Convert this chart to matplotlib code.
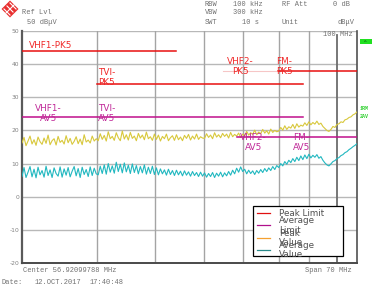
import matplotlib
matplotlib.use("Agg")
import matplotlib.pyplot as plt
from matplotlib.patches import Polygon, Rectangle
from matplotlib.lines import Line2D
import numpy as np

# Screen geometry (pixels of the 377x287 screenshot)
W, H = 377, 287
AX_L, AX_R, AX_T, AX_B = 22, 357, 31, 263

# Level axis (dBuV)
Y_TICKS = [50, 40, 30, 20, 10, 0, -10, -20]
# vertical grid lines, as fraction of the sweep
X_GRID = [0.225, 0.398, 0.542, 0.661, 0.766, 0.857]
MARKER_X = 0.940

# Limit lines: (name, level, x start, x end)
PK_LIMITS = [("VHF1-PK5", 44, 0.0, 0.459),
             ("TVI-PK5", 34, 0.225, 0.839),
             ("FM-PK5", 38, 0.765, 1.0)]
AV_LIMITS = [("VHF1/TVI-AV5", 24, 0.0, 0.839),
             ("VHF2/FM-AV5", 18, 0.642, 1.0)]

# Limit labels: (text, x centre, level centre)
PK_LABELS = [("TVI-\nPK5", 0.252, 36.1),
             ("VHF2-\nPK5", 0.651, 39.4),
             ("FM-\nPK5", 0.783, 39.4)]
AV_LABELS = [("VHF1-\nAV5", 0.078, 25.1),
             ("TVI-\nAV5", 0.252, 25.1),
             ("VHF2-\nAV5", 0.690, 16.5),
             ("FM-\nAV5", 0.834, 16.5)]

# Peak trace (yellow), every ~2 px
PEAK = [16.2, 17.9, 15.4, 16.8, 18.3, 15.9, 17.2, 15.5, 18.0, 16.6,
        15.8, 17.7, 16.1, 18.6, 15.7, 16.9, 17.5, 15.6, 18.2, 16.4,
        17.0, 15.9, 18.4, 16.3, 17.6, 15.8, 16.7, 18.1, 16.0, 17.4,
        15.7, 18.7, 16.5, 17.1, 16.2, 18.3, 16.8, 17.5,
        16.9, 19.0, 17.3, 18.5, 16.8, 19.6, 17.5, 18.2, 17.0, 19.3,
        17.8, 16.9, 19.8, 17.4, 18.7, 17.1, 19.4, 17.6, 18.3, 16.9,
        19.1, 17.7, 18.6, 17.2, 19.5, 17.5, 18.1, 17.0, 18.9,
        17.3, 18.6, 16.8, 18.2, 17.5, 18.9, 16.9, 17.8, 18.4, 17.0,
        18.7, 17.2, 18.0, 16.9, 18.5, 17.6, 18.8, 17.1, 18.3, 17.4,
        18.9, 17.3, 18.1, 17.7,
        17.6, 19.0, 17.9, 18.6, 17.5, 19.3, 18.0, 18.7, 17.8, 19.1,
        18.2, 18.9, 17.7, 19.4, 18.1, 18.8, 18.3, 19.2, 17.9, 18.9,
        18.4, 19.7, 18.6, 19.3, 18.8, 20.1, 18.7, 19.5, 19.0, 20.3,
        19.2, 19.9, 18.9, 20.4, 19.4, 20.0, 19.6,
        19.8, 20.9, 20.1, 21.4, 20.3, 21.1, 20.7, 21.8, 20.6, 22.0,
        21.0, 21.6, 21.3, 22.3, 21.5,
        22.6, 21.7, 22.4, 21.9, 22.8, 21.8, 22.2, 21.2, 20.6, 20.0, 19.7,
        20.3, 21.2, 20.9, 21.8, 22.0, 22.6, 22.4, 23.2, 23.4, 23.9,
        24.1, 24.7, 25.0, 25.6]

# Average trace (cyan)
AVG = [6.1, 8.8, 5.8, 7.4, 9.1, 6.0, 8.3, 5.7, 8.9, 6.6,
       7.9, 5.9, 9.2, 6.4, 8.1, 5.8, 8.7, 7.0, 6.2, 9.0,
       5.9, 8.4, 6.5, 8.8, 6.0, 7.7, 9.1, 6.3, 8.5, 5.8,
       8.9, 6.7, 8.2, 6.1, 9.0, 6.4, 8.6, 6.9,
       6.6, 9.2, 7.0, 9.6, 6.8, 10.0, 7.4, 9.3, 7.1, 10.4,
       7.6, 9.8, 7.2, 10.2, 7.5, 9.5, 7.0, 9.9, 7.3, 9.4,
       6.9, 9.1, 7.2, 9.6, 6.8, 8.9, 7.0, 9.2, 6.7,
       8.7, 6.6, 8.4, 6.9, 8.1, 6.5, 8.3, 6.7, 7.9, 6.4,
       8.0, 6.6, 7.7, 6.3, 7.8, 6.5, 7.5, 6.2, 7.6, 6.4,
       7.3, 6.1, 7.4, 6.2,
       7.2, 5.9, 7.0, 6.1, 7.3, 5.8, 7.1, 6.2, 7.4, 6.0,
       7.2, 6.3, 7.6, 6.5, 8.0, 6.9, 8.6, 7.4, 9.0, 7.6,
       8.3, 6.9, 8.0, 7.0, 7.8, 6.7, 7.9, 7.1, 8.2, 7.3,
       8.5, 7.6, 8.7, 7.9, 9.1, 8.2, 9.4,
       8.8, 10.0, 9.3, 10.6, 9.8, 11.0, 10.3, 11.5, 10.6, 11.9,
       10.9, 12.3, 11.2, 12.6, 11.5,
       12.8, 11.7, 12.5, 11.9, 12.7, 11.6, 12.1, 11.0, 10.2, 9.6, 9.3,
       9.9, 10.6, 10.9, 11.5, 11.8, 12.4, 12.7, 13.3, 13.6, 14.2,
       14.6, 15.1, 15.5, 16.0]

LEGEND_LABELS = ["Peak Limit", "Average\nLimit", "Peak\nValue", "Average\nValue"]
LEGEND_COLORS = ["#e01010", "#b0108c", "#f5a030", "#2a8a8a"]

RED = "#f02828"
MAGENTA = "#c02898"
GREY = "#707070"
MONO = "Liberation Mono"


def fx(x):
    return x / W


def fy(y):
    return 1 - y / H


def ax_xy(x, y):
    """screen pixel -> axes fraction"""
    return (x - AX_L) / (AX_R - AX_L), (AX_B - y) / (AX_B - AX_T)


fig = plt.figure(figsize=(W / 100, H / 100), dpi=100)
fig.patch.set_facecolor("white")
ax = fig.add_axes([fx(AX_L), fy(AX_B), (AX_R - AX_L) / W, (AX_B - AX_T) / H])
ax.set_xlim(0, 1)
ax.set_ylim(-20, 50)

for lv in Y_TICKS:
    ax.axhline(lv, color="#b8b8b8", lw=1.0, zorder=1)
for gx in X_GRID:
    ax.axvline(gx, color="#a4a4a4", lw=1.0, zorder=1)
ax.plot([MARKER_X, MARKER_X], [-20, 48.8], color="#6c6c6c", lw=1.3, zorder=2)

ax.set_xticks([])
ax.set_yticks(Y_TICKS)
ax.set_yticklabels([str(t) for t in Y_TICKS], fontsize=4.3, color="#808080",
                   family="DejaVu Sans")
ax.tick_params(axis="y", length=0, pad=2)
ax.spines["top"].set_visible(False)
for side, c, w in [("left", "#5a5a5a", 1.6), ("bottom", "#4a4a4a", 1.4),
                   ("right", "#505050", 1.2)]:
    ax.spines[side].set_color(c)
    ax.spines[side].set_linewidth(w)

# traces
xs = np.linspace(0, 1, len(PEAK))
ax.plot(xs, PEAK, color="#d8c83c", lw=0.8, zorder=3)
xa = np.linspace(0, 1, len(AVG))
ax.plot(xa, AVG, color="#22b8c0", lw=0.8, zorder=3)

# limit lines
for name, lv, x0, x1 in PK_LIMITS:
    ax.plot([x0, x1], [lv, lv], color="#e81010", lw=1.1, zorder=4)
for name, lv, x0, x1 in AV_LIMITS:
    ax.plot([x0, x1], [lv, lv], color="#c0108c", lw=1.1, zorder=4)
ax.plot([0.60, 0.765], [38, 38], color="#f0a0a0", lw=0.8, alpha=0.6, zorder=4)

ax.text(0.021, 44.4, "VHF1-PK5", color=RED, fontsize=6.4, ha="left", va="bottom",
        zorder=5)
for txt, x, lv in PK_LABELS:
    ax.text(x, lv, txt, color=RED, fontsize=6.4, ha="center", va="center",
            multialignment="center", linespacing=1.15, zorder=5)
for txt, x, lv in AV_LABELS:
    ax.text(x, lv, txt, color=MAGENTA, fontsize=6.4, ha="center", va="center",
            multialignment="center", linespacing=1.15, zorder=5)

# legend, drawn by hand so the wrapped labels overlap like the screen
bx0, by0 = ax_xy(253.3, 256)
bx1, by1 = ax_xy(343.3, 206)
ax.add_patch(Rectangle((bx0, by0), bx1 - bx0, by1 - by0, transform=ax.transAxes,
                       facecolor="white", edgecolor="black", lw=0.9, zorder=6,
                       clip_on=False))
for i, (lab, col) in enumerate(zip(LEGEND_LABELS, LEGEND_COLORS)):
    yy = 213 + i * 12.4
    l0 = ax_xy(257, yy)
    l1 = ax_xy(270, yy)
    ax.add_line(Line2D([l0[0], l1[0]], [l0[1], l1[1]], transform=ax.transAxes,
                       color=col, lw=0.9, zorder=7, clip_on=False))
    tx, ty = ax_xy(279, yy)
    ax.text(tx, ty, lab, transform=ax.transAxes, fontsize=6.3, color="#505050",
            ha="left", va="center", linespacing=1.05, zorder=7,
            family="DejaVu Sans", clip_on=False)


# instrument header / footer text
def screen_text(x, y, s, **kw):
    opts = dict(fontsize=5, color=GREY, family=MONO, ha="left", va="center")
    opts.update(kw)
    fig.text(fx(x), fy(y), s, **opts)


screen_text(22, 13, "Ref Lvl")
screen_text(27, 22, "50 dB\u03bcV")
screen_text(205, 4, "RBW")
screen_text(233, 4, "100 kHz")
screen_text(282, 4, "RF Att")
screen_text(333, 4, "0 dB")
screen_text(205, 13, "VBW")
screen_text(233, 13, "300 kHz")
screen_text(205, 22, "SWT")
screen_text(242, 22, "10 s")
screen_text(282, 22, "Unit")
screen_text(338, 22, "dB\u03bcV")
screen_text(353, 35, "100 MHz", ha="right")
screen_text(23, 270, "Center 56.92099788 MHz")
screen_text(305, 270, "Span 70 MHz")
screen_text(1, 283, "Date:")
screen_text(35, 283, "12.OCT.2017")
screen_text(90, 283, "17:40:48")

# green trace markers at right
screen_text(360, 109, "1RM", color="#30d030", fontsize=3.6, fontweight="bold")
screen_text(360, 116, "2AV", color="#30d030", fontsize=3.6, fontweight="bold")
fig.patches.append(Rectangle((fx(360), fy(44)), fx(12), 5 / H, transform=fig.transFigure,
                             facecolor="#20e020", edgecolor="none"))
screen_text(364, 41.5, "A", color="#106010", fontsize=3.2)

# logo: red diamond with white strokes
cx, cy, r = 10, 9, 8.5
fig.patches.append(Polygon([(fx(cx), fy(cy - r)), (fx(cx + r), fy(cy)),
                            (fx(cx), fy(cy + r)), (fx(cx - r), fy(cy))],
                           closed=True, transform=fig.transFigure,
                           facecolor="#e83030", edgecolor="none"))
for d in (-3, 0, 3):
    fig.add_artist(Line2D([fx(cx - 3 + d), fx(cx + 3 + d)],
                          [fy(cy - 3 - d), fy(cy + 3 - d)],
                          transform=fig.transFigure, color="white", lw=0.8))
fig.add_artist(Line2D([fx(cx - 4), fx(cx + 4)], [fy(cy + 4), fy(cy - 4)],
                      transform=fig.transFigure, color="white", lw=0.8))

fig.savefig("out.png", dpi=100)
